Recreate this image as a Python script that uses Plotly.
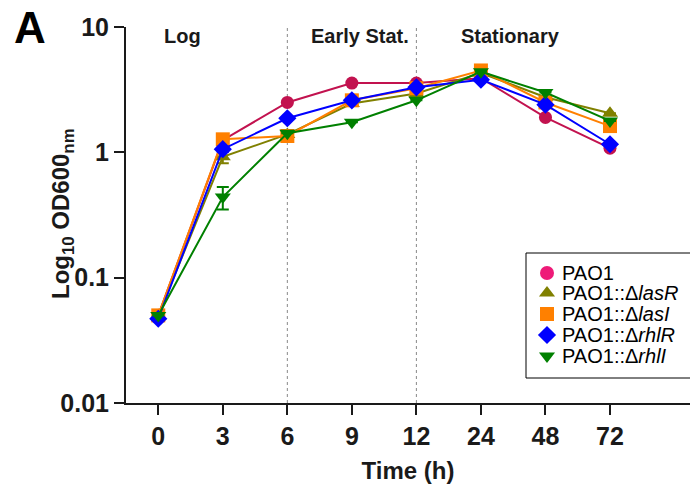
import plotly.graph_objects as go

times = ["0", "3", "6", "9", "12", "24", "48", "72"]
names = ["PAO1", "PAO1::Δ<i>lasR</i>", "PAO1::Δ<i>lasI</i>", "PAO1::Δ<i>rhlR</i>", "PAO1::Δ<i>rhlI</i>"]
pao1 = [0.050, 1.25, 2.5, 3.57, 3.57, 3.9, 1.9, 1.08]
lasR = [0.050, 0.92, 1.39, 2.45, 2.95, 4.3, 2.75, 2.05]
lasI = [0.050, 1.27, 1.35, 2.6, 3.25, 4.5, 2.5, 1.62]
rhlR = [0.047, 1.06, 1.87, 2.6, 3.3, 3.8, 2.4, 1.16]
rhlI = [0.050, 0.44, 1.42, 1.74, 2.6, 4.4, 3.0, 1.78]
pao1_err = [0, 0.08, 0, 0, 0, 0, 0, 0]
lasR_err = [0, 0.1, 0, 0, 0, 0, 0, 0]
lasI_err = [0, 0.06, 0, 0, 0, 0, 0, 0]
rhlR_err = [0, 0.05, 0, 0, 0, 0, 0, 0]
rhlI_err = [0, 0.09, 0, 0, 0, 0, 0, 0]
colors = ["#C2124F", "#808000", "#FF8000", "#0000FF", "#008000"]
legend_colors = ["#EE1A78", "#808000", "#FF8000", "#0000FF", "#008000"]
symbols = ["circle", "triangle-up", "square", "diamond", "triangle-down"]
phase_labels = ["Log", "Early Stat.", "Stationary"]
phase_pos = [0.37, 3.12, 5.46]
tick_vals_y = [0.01, 0.1, 1, 10]
tick_text_y = ["0.01", "0.1", "1", "10"]

FONT = "Arial, Liberation Sans, sans-serif"
W, H = 690, 487
L, T, B = 126, 27, 84
PW, PH = W - L, H - T - B


def px(xp):
    return (xp - L) / PW


def py(yp):
    return (H - B - yp) / PH


xi = list(range(len(times)))
fig = go.Figure()
for name, ys, errs, c, s in zip(names, [pao1, lasR, lasI, rhlR, rhlI],
                                 [pao1_err, lasR_err, lasI_err, rhlR_err, rhlI_err], colors, symbols):
    fig.add_trace(go.Scatter(
        x=xi, y=ys, name=name, mode="lines+markers", showlegend=False,
        line=dict(color=c, width=2),
        marker=dict(color=c, symbol=s, size=14 if s != "circle" else 13, line=dict(width=0)),
        error_y=dict(type="data", array=errs, color=c, thickness=2, width=6, visible=True),
    ))

# manual legend (markers on an overlay pixel axis, text as annotations)
leg_rows = [273, 293, 314, 335, 356]
fig.add_trace(go.Scatter(
    x=[547] * len(names), y=leg_rows, mode="markers", xaxis="x2", yaxis="y2",
    showlegend=False, hoverinfo="skip",
    marker=dict(color=legend_colors, symbol=symbols, size=14, line=dict(width=0)),
))
fig.add_shape(type="rect", xref="paper", yref="paper", x0=px(526), x1=px(692), y0=py(378), y1=py(253),
              line=dict(color="black", width=1), fillcolor="white", layer="below")
for name, r in zip(names, leg_rows):
    fig.add_annotation(x=px(560), y=py(r), xref="paper", yref="paper", text=name, showarrow=False,
                       xanchor="left", yanchor="middle", font=dict(family=FONT, size=20, color="black"))

for xv in [2, 4]:
    fig.add_shape(type="line", x0=xv, x1=xv, y0=0, y1=1, xref="x", yref="paper",
                  line=dict(color="#888888", width=1, dash="dot"), layer="below")

for t, p in zip(phase_labels, phase_pos):
    fig.add_annotation(x=p, y=py(36), xref="x", yref="paper", text="<b>%s</b>" % t,
                       showarrow=False, font=dict(family=FONT, size=20, color="#1a1a1a"),
                       yanchor="middle")

fig.add_annotation(x=5, y=3.15, xref="x", yref="y", ax=0, ay=20, text="",
                   showarrow=True, arrowhead=2, arrowsize=2, arrowwidth=2, arrowcolor="#E8441E")

fig.add_annotation(x=px(30), y=py(28), xref="paper", yref="paper", text="<b>A</b>",
                   showarrow=False, font=dict(family=FONT, size=44, color="black"),
                   xanchor="center", yanchor="middle")

fig.add_annotation(x=px(62), y=py(214), xref="paper", yref="paper",
                   text="<b>Log<sub>10</sub> OD600<sub>nm</sub></b>", textangle=-90,
                   showarrow=False, font=dict(family=FONT, size=24, color="#1a1a1a"),
                   xanchor="center", yanchor="middle")

fig.update_layout(
    width=W, height=H, margin=dict(l=L, r=0, t=T, b=B),
    plot_bgcolor="white", paper_bgcolor="white",
    font=dict(family=FONT, color="#1a1a1a"),
    showlegend=False,
    xaxis=dict(range=[-0.5, 8.24], tickmode="array", tickvals=xi, ticktext=times,
               showline=True, linecolor="#1a1a1a", linewidth=2, ticks="outside",
               ticklen=10, tickwidth=2, tickcolor="#1a1a1a", showgrid=False, zeroline=False,
               tickfont=dict(family=FONT, size=25, color="#1a1a1a", weight="bold"),
               title=dict(text="<b>Time (h)</b>", font=dict(family=FONT, size=24), standoff=13)),
    yaxis=dict(type="log", range=[-2, 1], tickmode="array", tickvals=tick_vals_y, ticktext=tick_text_y,
               showline=True, linecolor="#1a1a1a", linewidth=2, ticks="outside",
               ticklen=10, tickwidth=2, tickcolor="#1a1a1a", showgrid=False, zeroline=False,
               tickfont=dict(family=FONT, size=25, color="#1a1a1a", weight="bold")),
    xaxis2=dict(overlaying="x", range=[L, W], visible=False, fixedrange=True),
    yaxis2=dict(overlaying="y", range=[H - B, T], visible=False, fixedrange=True),
)
fig.write_html("out.html")
